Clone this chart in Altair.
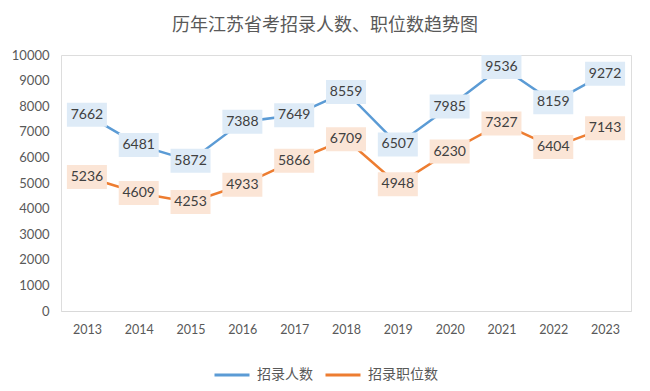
import altair as alt
import pandas as pd

years = ["2013", "2014", "2015", "2016", "2017", "2018", "2019", "2020", "2021", "2022", "2023"]
people = [7662, 6481, 5872, 7388, 7649, 8559, 6507, 7985, 9536, 8159, 9272]
posts = [5236, 4609, 4253, 4933, 5866, 6709, 4948, 6230, 7327, 6404, 7143]
series = ["招录人数", "招录职位数"]
line_colors = ["#5B9BD5", "#ED7D31"]
box_colors = ["#DEEBF7", "#FBE5D6"]

rows = []
for y, v in zip(years, people):
    rows.append({"year": y, "value": v, "series": series[0]})
for y, v in zip(years, posts):
    rows.append({"year": y, "value": v, "series": series[1]})
df = pd.DataFrame(rows)

x = alt.X("year:O", sort=years, scale=alt.Scale(type="point", padding=0.5),
          axis=alt.Axis(title=None, labelAngle=0, ticks=False, domainColor="#D9D9D9",
                        domainWidth=1, labelPadding=12, labelFontSize=12.5,
                        labelColor="#595959", labelFont="Lato"))
y = alt.Y("value:Q", scale=alt.Scale(domain=[0, 10000], nice=False),
          axis=alt.Axis(title=None, values=list(range(0, 10001, 1000)), format="d", grid=False,
                        domain=False, ticks=False, labelPadding=12, labelFontSize=13,
                        labelColor="#595959", labelFont="Lato"))

base = alt.Chart(df)

lines = base.mark_line(strokeWidth=2.5).encode(
    x=x, y=y,
    color=alt.Color("series:N", sort=series,
                    scale=alt.Scale(domain=series, range=line_colors),
                    legend=alt.Legend(title=None, orient="none", direction="horizontal",
                                      legendX=152, legendY=301,
                                      symbolType="stroke", symbolSize=1225,
                                      symbolStrokeWidth=3, labelFontSize=14,
                                      labelColor="#595959", labelFont="Noto Sans CJK SC",
                                      columnPadding=6, labelOffset=6)),
)

boxes = base.mark_point(shape="M-1,-0.6H1V0.6H-1Z", size=1600, filled=True,
                        opacity=1, strokeWidth=0).encode(
    x=x, y=y,
    fill=alt.Fill("series:N", scale=alt.Scale(domain=series, range=box_colors), legend=None),
)

texts = base.mark_text(fontSize=14, font="Lato", color="#404040", baseline="middle",
                       align="center").encode(
    x=x, y=y, text=alt.Text("value:Q", format="d"),
)

chart = alt.layer(lines, boxes, texts).properties(
    width=570, height=256,
    autosize=alt.AutoSizeParams(type="none"),
    padding={"left": 53, "top": 47, "right": 11, "bottom": 72},
    title=alt.TitleParams("历年江苏省考招录人数、职位数趋势图", font="Noto Sans CJK SC",
                          fontSize=18, fontWeight="normal", color="#595959",
                          frame="group", anchor="middle", offset=14, dx=-21),
).configure_view(stroke=None).configure(background="white")

chart.save("out.html", embed_options={"renderer": "svg", "actions": False})
